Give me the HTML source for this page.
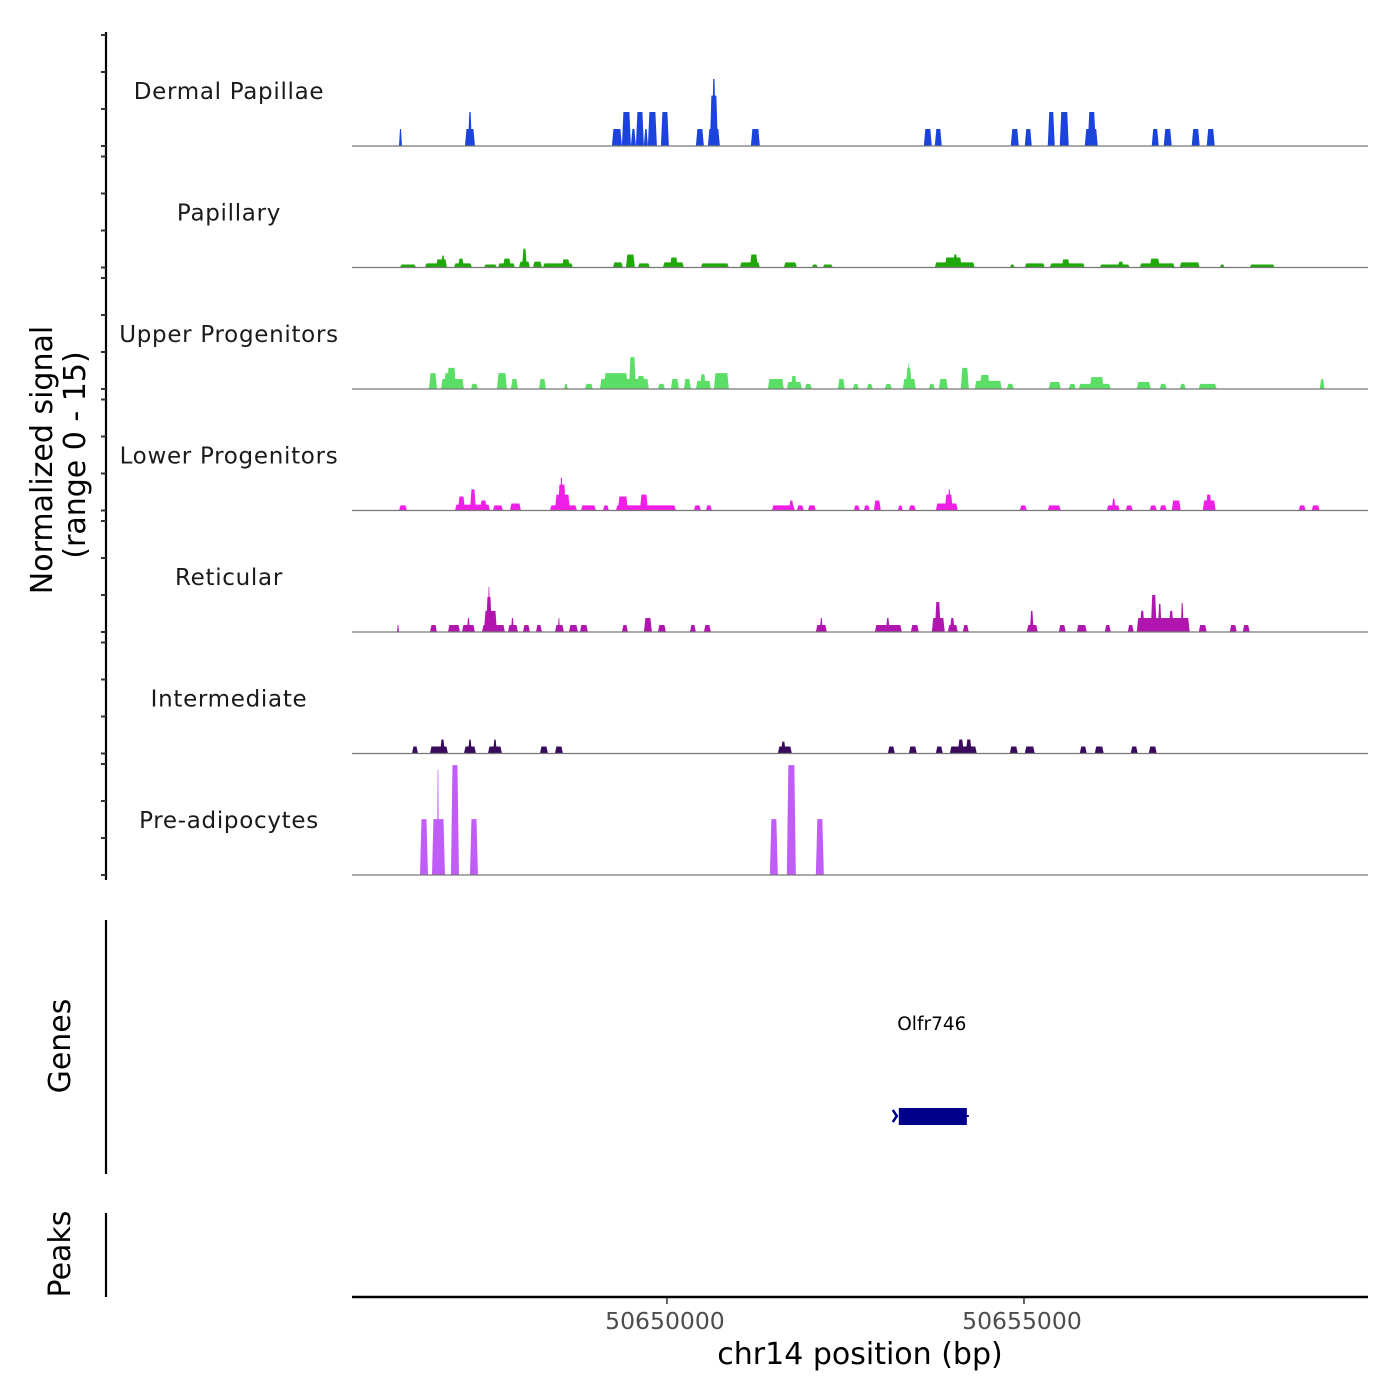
<!DOCTYPE html>
<html><head><meta charset="utf-8"><style>
html,body{margin:0;padding:0;background:#fff;}
svg{display:block;font-family:"DejaVu Sans","Liberation Sans",sans-serif;}
</style></head><body>
<svg id="chart" width="1400" height="1400" viewBox="0 0 1400 1400" xmlns="http://www.w3.org/2000/svg"></svg>
<script>
// ---- data (positions are bp offsets from regionStart, values are normalized signal) ----
const regionStart = 50645589;
const regionEnd = 50659818;
const xTickValues = [50650000, 50655000];
const xTickLabels = ["50650000", "50655000"];
const trackNames = ["Dermal Papillae","Papillary","Upper Progenitors","Lower Progenitors","Reticular","Intermediate","Pre-adipocytes"];
const trackColors = ["#1b44dc","#20a80b","#5ade66","#f01ee6","#b016ae","#3a0b5c","#c05cf8"];
const signalMax = 15;

const dermalPapillae = [[658,700,2.3],[1582,1722,2.3],[1624,1680,4.6],[3640,3780,2.3],[3780,3906,4.6],[3906,3976,2.3],[3976,4088,4.6],[4088,4144,2.3],[4144,4270,4.6],[4326,4438,4.6],[4816,4928,2.3],[4984,5152,2.3],[5012,5124,6.8],[5040,5096,9.05],[5586,5712,2.3],[8008,8120,2.3],[8162,8260,2.3],[9226,9338,2.3],[9422,9520,2.3],[9744,9842,4.6],[9912,10038,4.6],[10262,10444,2.3],[10304,10416,4.6],[11200,11298,2.3],[11368,11480,2.3],[11760,11872,2.3],[11970,12082,2.3]];
const papillary = [[672,896,0.4],[1022,1330,0.55],[1176,1330,1.1],[1246,1302,1.6],[1428,1680,0.55],[1484,1568,1.2],[1848,2030,0.4],[2044,2282,0.55],[2114,2226,1.2],[2338,2492,0.8],[2380,2450,2.55],[2534,2660,0.8],[2674,3094,0.55],[2940,3052,1.1],[3654,3794,0.7],[3836,3962,1.75],[4004,4172,0.55],[4354,4648,0.7],[4452,4564,1.35],[4886,5278,0.55],[5432,5712,0.7],[5572,5684,1.75],[6048,6230,0.7],[6440,6524,0.4],[6594,6734,0.4],[8162,8722,0.7],[8302,8540,1.35],[8414,8484,1.75],[9212,9282,0.4],[9422,9702,0.55],[9772,10262,0.55],[9940,10052,1.1],[10472,10892,0.4],[10724,10808,0.8],[11032,11522,0.55],[11172,11312,1.2],[11592,11872,0.7],[12152,12222,0.4],[12572,12922,0.4]];
const upperProgenitors = [[1078,1190,2.15],[1246,1568,1.35],[1330,1456,2.85],[1288,1372,2.15],[1666,1764,0.7],[2030,2170,2.15],[2226,2324,1.35],[2618,2716,1.35],[2968,3024,0.7],[3262,3374,0.7],[3472,4158,1.35],[3528,3864,2.15],[3878,3976,4.3],[3990,4102,1.75],[4284,4382,0.7],[4466,4578,1.35],[4648,4746,1.35],[4816,5026,1.1],[4872,4956,2.0],[5068,5278,2.15],[5824,6048,1.35],[6090,6300,0.95],[6146,6230,1.75],[6342,6440,0.7],[6804,6902,1.35],[7014,7098,0.7],[7210,7294,0.7],[7462,7560,0.7],[7714,7896,1.35],[7756,7840,2.85],[7784,7812,3.5],[8078,8162,0.7],[8218,8344,1.35],[8526,8638,2.85],[8722,9100,1.1],[8792,8932,1.9],[9170,9268,0.7],[9758,9926,0.95],[10038,10136,0.7],[10178,10626,0.7],[10332,10528,1.6],[10990,11186,0.95],[11312,11410,0.7],[11592,11676,0.7],[11858,12110,0.7],[13552,13622,1.35]];
const lowerProgenitors = [[658,770,0.7],[1442,1932,0.8],[1484,1582,1.9],[1652,1736,2.85],[1792,1890,1.35],[1974,2114,0.7],[2212,2366,0.95],[2772,3150,0.7],[2842,3052,2.15],[2884,2996,3.5],[2912,2954,4.45],[3206,3416,0.7],[3514,3598,0.7],[3696,4536,0.7],[3724,3864,1.9],[4032,4144,2.15],[4788,4886,0.7],[4956,5040,0.7],[5880,6202,0.7],[6118,6188,1.35],[6230,6328,0.7],[6384,6496,0.7],[7028,7112,0.7],[7168,7252,0.7],[7308,7406,1.35],[7644,7714,0.7],[7798,7896,0.7],[8176,8484,0.95],[8302,8414,2.15],[8344,8386,2.85],[9352,9450,0.7],[9744,9926,0.7],[10570,10752,0.7],[10640,10696,1.6],[10836,10934,0.7],[11172,11270,0.7],[11312,11410,0.7],[11480,11606,1.35],[11914,12096,1.35],[11956,12040,2.15],[13258,13356,0.7],[13440,13552,0.7]];
const reticular = [[630,658,0.95],[1092,1190,0.95],[1344,1512,0.95],[1540,1722,0.95],[1610,1652,1.9],[1820,2142,0.95],[1848,2030,2.85],[1876,1960,4.75],[1904,1932,6.1],[2184,2324,0.95],[2226,2268,1.9],[2394,2492,0.95],[2576,2660,0.95],[2842,2968,0.95],[2884,2912,1.9],[3038,3164,0.95],[3192,3304,0.95],[3780,3864,0.95],[4088,4200,1.9],[4284,4396,0.95],[4732,4816,0.95],[4928,5026,0.95],[6496,6650,0.95],[6552,6594,1.9],[7322,7700,0.95],[7476,7532,1.9],[7826,7938,0.95],[8120,8302,1.9],[8162,8246,4.05],[8344,8484,0.95],[8372,8442,1.9],[8554,8638,0.95],[9450,9604,0.95],[9492,9548,2.85],[9898,9996,0.95],[10150,10290,0.95],[10542,10626,0.95],[10864,10948,0.95],[10990,11732,1.9],[11032,11102,2.85],[11186,11270,5.0],[11284,11340,3.8],[11438,11508,2.85],[11606,11648,3.9],[11858,11970,0.95],[12292,12390,0.95],[12474,12572,0.95]];
const intermediate = [[840,924,0.95],[1092,1344,0.95],[1232,1302,1.9],[1568,1736,0.95],[1624,1680,1.9],[1904,2100,0.95],[1974,2030,1.9],[2632,2744,0.95],[2842,2954,0.95],[5964,6160,0.95],[6006,6076,1.6],[7504,7602,0.95],[7798,7910,0.95],[8176,8274,0.95],[8372,8750,0.95],[8484,8568,1.9],[8596,8680,1.9],[9212,9324,0.95],[9422,9562,0.95],[10192,10290,0.95],[10402,10528,0.95],[10906,11004,0.95],[11158,11270,0.95]];
const preAdipocytes = [[952,1064,7.55],[1120,1302,7.55],[1190,1218,14.2],[1386,1498,14.85],[1652,1764,7.55],[5852,5964,7.55],[6090,6216,14.85],[6496,6608,7.55]];
const trackData = [dermalPapillae,papillary,upperProgenitors,lowerProgenitors,reticular,intermediate,preAdipocytes];

const geneName = "Olfr746";
const geneStart = 50653247;
const geneEnd = 50654200;

// ---- layout ----
const NS = "http://www.w3.org/2000/svg";
const svg = document.getElementById("chart");
const plotLeft = 352, plotRight = 1368;
const firstBaseline = 146, trackStep = 121.5, trackPx = 111;
function xScale(bp){ return plotLeft + (bp - regionStart) / (regionEnd - regionStart) * (plotRight - plotLeft); }
function yScale(v, base){ return base - v / signalMax * trackPx; }
function mk(tag, attrs, parent){
  const el = document.createElementNS(NS, tag);
  for (const k in attrs) el.setAttribute(k, attrs[k]);
  (parent || svg).appendChild(el);
  return el;
}

// left signal axis
const axis = mk("line",{x1:106,y1:32,x2:106,y2:880,stroke:"#000","stroke-width":2.2});



trackNames.forEach((name, i) => {
  const base = firstBaseline + i * trackStep;
  const g = mk("g",{});
  
  
  [0,5,10,15].forEach(t => {
    const y = yScale(t, base);
    const tk = mk("line",{x1:101,y1:y,x2:106,y2:y,stroke:"#333","stroke-width":2},g);
    
    
  });
  const lab = mk("text",{x:229,y:base-47,"text-anchor":"middle","font-size":23,fill:"#1a1a1a","letter-spacing":"0.7"},g);
  lab.textContent = name;
  
  
  trackData[i].forEach(seg => {
    const x0 = xScale(regionStart + seg[0]), x1 = xScale(regionStart + seg[1]);
    const yt = yScale(seg[2], base);
    const s = Math.min(1.5, (x1-x0)/3);
    const p = mk("polygon",{points:`${x0},${base} ${x0+s},${yt} ${x1-s},${yt} ${x1},${base}`,fill:trackColors[i]},g);
    
    
  });
  const bl = mk("line",{x1:plotLeft,y1:base,x2:plotRight,y2:base,stroke:"#777","stroke-width":1.2},g);
  
  
});

const yt1 = mk("text",{x:0,y:0,"text-anchor":"middle","font-size":30,fill:"#000",transform:"translate(52,460) rotate(-90)"});
yt1.textContent = "Normalized signal";


const yt2 = mk("text",{x:0,y:0,"text-anchor":"middle","font-size":30,fill:"#000",transform:"translate(85,455) rotate(-90)"});
yt2.textContent = "(range 0 - 15)";



// genes panel
const ga = mk("line",{x1:106,y1:920,x2:106,y2:1174,stroke:"#000","stroke-width":2.2});


const gt = mk("text",{x:0,y:0,"text-anchor":"middle","font-size":30,fill:"#000",transform:"translate(70,1046) rotate(-90)"});
gt.textContent = "Genes";


const gx0 = xScale(geneStart), gx1 = xScale(geneEnd);
const gl = mk("text",{x:(gx0+gx1)/2-1,y:1030,"text-anchor":"middle","font-size":18.5,fill:"#000"});
gl.textContent = geneName;


const gb = mk("rect",{x:gx0,y:1108,width:gx1-gx0,height:17,fill:"#00008b"});


const gs = mk("path",{d:`M${gx0-6},1110 L${gx0-2},1116 L${gx0-6},1122`,stroke:"#00008b","stroke-width":2.5,fill:"none"});


const gd = mk("line",{x1:gx1,y1:1116,x2:gx1+2,y2:1116,stroke:"#00008b","stroke-width":2});



// peaks panel
const pa = mk("line",{x1:106,y1:1213,x2:106,y2:1297,stroke:"#000","stroke-width":2.2});


const pt = mk("text",{x:0,y:0,"text-anchor":"middle","font-size":30,fill:"#000",transform:"translate(70,1254) rotate(-90)"});
pt.textContent = "Peaks";



// x axis
const xa = mk("line",{x1:plotLeft,y1:1297,x2:plotRight,y2:1297,stroke:"#000","stroke-width":2.5});


xTickValues.forEach((v, i) => {
  const x = xScale(v);
  const t = mk("line",{x1:x,y1:1298,x2:x,y2:1304,stroke:"#333","stroke-width":1.5});
  
  
  const l = mk("text",{x:x-2,y:1329,"text-anchor":"middle","font-size":23.5,fill:"#4d4d4d"});
  l.textContent = xTickLabels[i];
  
  
});
const xt = mk("text",{x:860,y:1364,"text-anchor":"middle","font-size":30,fill:"#000"});
xt.textContent = "chr14 position (bp)";


</script>
</body></html>
